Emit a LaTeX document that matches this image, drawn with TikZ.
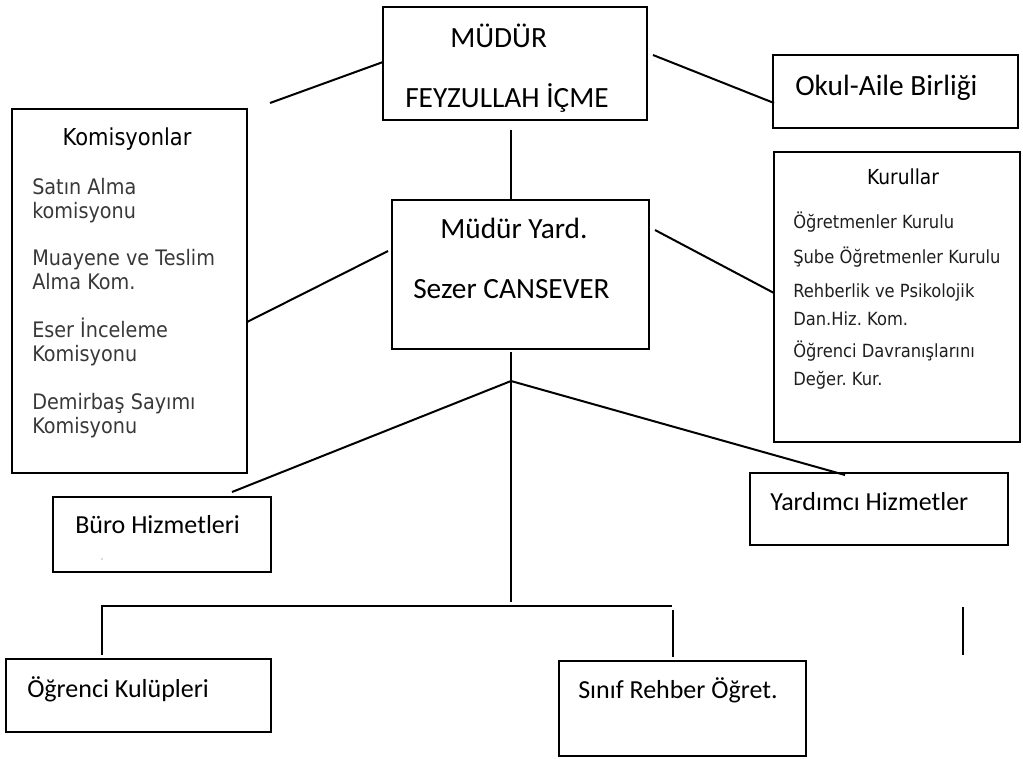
\documentclass[tikz,border=0pt]{standalone}
\usepackage{fontspec}
\setmainfont{Carlito}
\newfontfamily\listfont[FakeStretch=0.9]{DejaVu Sans}
\usetikzlibrary{fit}
\frenchspacing
\tikzset{
  bx/.style={draw=black, line width=1.5pt, inner sep=0pt},
  ln/.style={draw=black, line width=1.5pt},
  big/.style={anchor=base west, inner sep=0pt, font=\fontsize{22}{26}\selectfont},
  mid/.style={anchor=base west, inner sep=0pt, font=\fontsize{19.5}{23}\selectfont},
  kitem/.style={anchor=base west, inner sep=0pt, align=left, text=black!78,
    font=\listfont\fontsize{16}{18}\selectfont},
  kuitem/.style={anchor=base west, inner sep=0pt, align=left, text=black!88,
    font=\listfont\fontsize{13.6}{20.3}\selectfont},
}
\begin{document}
\begin{tikzpicture}[x=0.75pt,y=-0.75pt]
\useasboundingbox (0,0) rectangle (1023,758);
% boxes
\node[bx, fit={(383,7) (647,120)}] (mudur) {};
\node[bx, fit={(773,55) (1018,128)}] (okul) {};
\node[bx, fit={(12,109) (247,473)}] (komis) {};
\node[bx, fit={(392,200) (649,349)}] (yard) {};
\node[bx, fit={(774,152) (1020,442)}] (kurul) {};
\node[bx, fit={(53,497) (271,572)}] (buro) {};
\node[bx, fit={(750,473) (1008,545)}] (yrdh) {};
\node[bx, fit={(6,659) (271,732)}] (kulup) {};
\node[bx, fit={(559,661) (806,756)}] (sinif) {};
% texts
\node[big] (t1) at (450,47) {MÜDÜR};
\node[big] (t2) at (405,107) {FEYZULLAH İÇME};
\node[big] (t3) at (795,95) {Okul-Aile Birliği};
\node[big] (t4) at (440,238) {Müdür Yard.};
\node[big] (t5) at (413,298) {Sezer CANSEVER};
\node[mid] (t6) at (75,533) {Büro Hizmetleri};
\node[mid] (t7) at (770,510) {Yardımcı Hizmetler};
\node[mid] (t8) at (27,697) {Öğrenci Kulüpleri};
\node[mid] (t9) at (578,698) {Sınıf Rehber Öğret.};
% komisyonlar (anchor = baseline of last line)
\node[anchor=base, inner sep=0pt, font=\listfont\fontsize{17.5}{20}\selectfont] (kt) at (127,145) {Komisyonlar};
\node[kitem] (k1) at (32,218) {Satın Alma\\komisyonu};
\node[kitem] (k2) at (32,289) {Muayene ve Teslim\\Alma Kom.};
\node[kitem] (k3) at (32,361) {Eser İnceleme\\Komisyonu};
\node[kitem] (k4) at (32,433) {Demirbaş Sayımı\\Komisyonu};
% kurullar
\node[anchor=base, inner sep=0pt, font=\listfont\fontsize{15.5}{18}\selectfont] (kut) at (903,184) {Kurullar};
\node[kuitem] (u1) at (793,228) {Öğretmenler Kurulu};
\node[kuitem] (u2) at (793,263) {Şube Öğretmenler Kurulu};
\node[kuitem] (u3) at (793,325) {Rehberlik ve Psikolojik\\Dan.Hiz. Kom.};
\node[kuitem] (u4) at (793,385) {Öğrenci Davranışlarını\\Değer. Kur.};
% stray dot
\fill[black!60] (102,559) circle (0.7);
% connector points
\coordinate (a1) at (383,62);
\coordinate (a2) at (270,103);
\coordinate (b1) at (653,55);
\coordinate (b2) at (774,103);
\coordinate (c1) at (511,130);
\coordinate (c2) at (511,200);
\coordinate (d1) at (247,322);
\coordinate (d2) at (388,251);
\coordinate (e1) at (655,230);
\coordinate (e2) at (774,293);
\coordinate (f1) at (511,352);
\coordinate (f2) at (511,602);
\coordinate (j) at (511,381);
\coordinate (g2) at (232,492);
\coordinate (h2) at (845,475);
\coordinate (hl) at (102,606);
\coordinate (hr) at (672,606);
\coordinate (l2) at (102,655);
\coordinate (r1) at (673,610);
\coordinate (r2) at (673,657);
\coordinate (z1) at (963,607);
\coordinate (z2) at (963,655);
% connectors
\draw[ln] (a1) -- (a2);
\draw[ln] (b1) -- (b2);
\draw[ln] (c1) -- (c2);
\draw[ln] (d1) -- (d2);
\draw[ln] (e1) -- (e2);
\draw[ln] (f1) -- (f2);
\draw[ln] (j) -- (g2);
\draw[ln] (j) -- (h2);
\draw[ln] (l2) -- (hl) -- (hr);
\draw[ln] (r1) -- (r2);
\draw[ln] (z1) -- (z2);
\end{tikzpicture}
\end{document}
